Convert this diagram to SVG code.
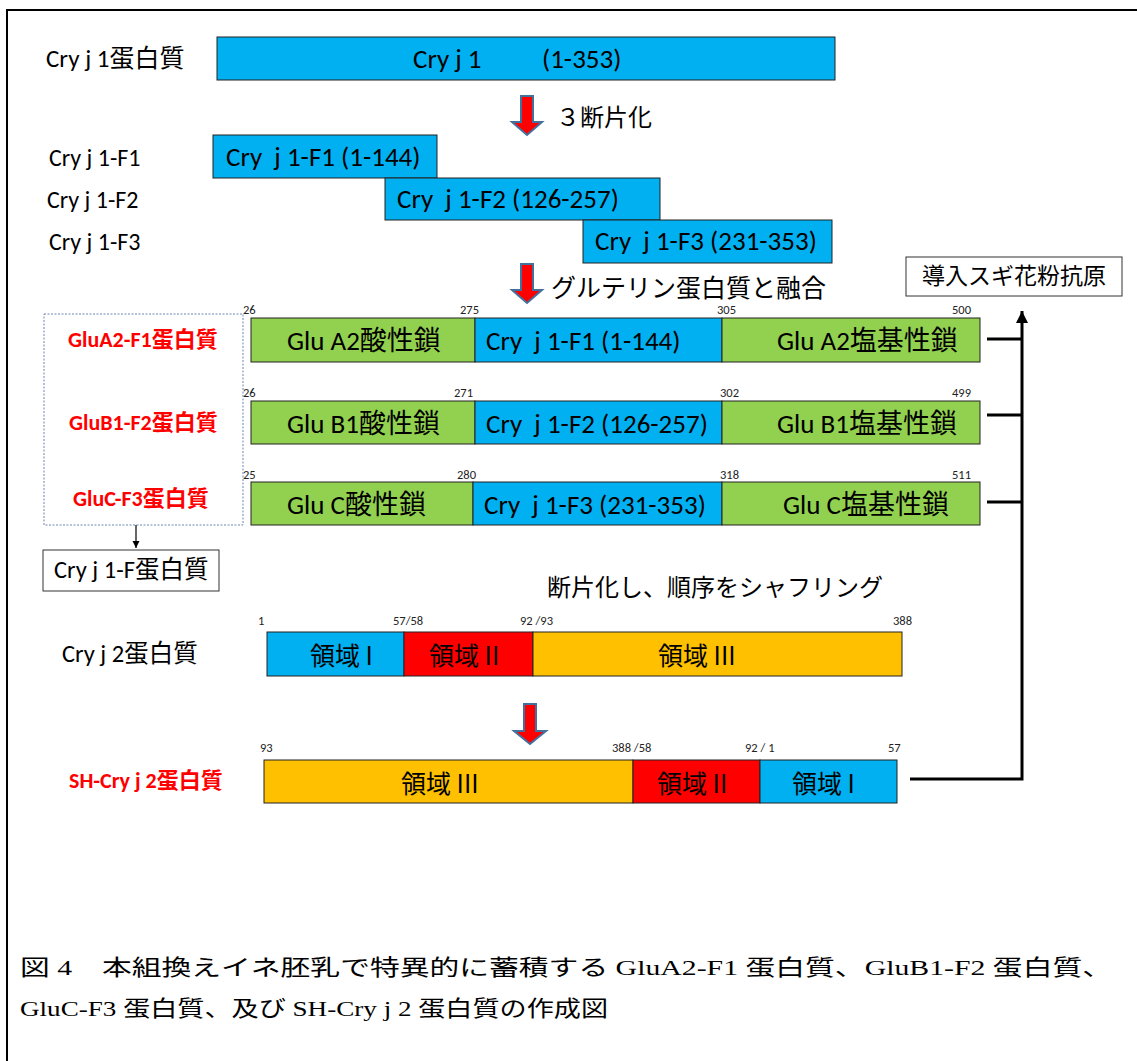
<svg xmlns="http://www.w3.org/2000/svg" width="1137" height="1061" viewBox="0 0 1137 1061">
<defs>
<style>
.t{font-family:Carlito,Lato,"Noto Sans CJK JP",sans-serif;fill:#000}
.jp{font-family:"Noto Sans CJK JP",sans-serif;fill:#000}
.n{font-family:Carlito,Lato,sans-serif;font-size:12.5px;fill:#222}
.red{font-family:Carlito,Lato,"Noto Sans CJK JP",sans-serif;font-weight:bold;fill:#FF0000;font-size:22px}
.cap{font-family:"Liberation Serif","Noto Sans CJK JP",serif;font-size:22px;fill:#000}
.b{fill:#00B0F0;stroke:#222;stroke-width:1}
.g{fill:#92D050;stroke:#222;stroke-width:1}
.o{fill:#FFC000;stroke:#222;stroke-width:1}
.r{fill:#FF0000;stroke:#222;stroke-width:1}
.arr{fill:#FF0000;stroke:#41719C;stroke-width:2;stroke-linejoin:miter}
.box{fill:#fff;stroke:#333;stroke-width:1}
.conn{fill:none;stroke:#000;stroke-width:3}
</style>
<marker id="ah" viewBox="0 0 10 10" refX="10" refY="5" markerWidth="6" markerHeight="6" orient="auto" markerUnits="strokeWidth">
<path d="M0,0 L10,5 L0,10 Z" fill="#000"/>
</marker>
<marker id="ah2" viewBox="0 0 10 10" refX="10" refY="5" markerWidth="4" markerHeight="4" orient="auto" markerUnits="strokeWidth">
<path d="M0,0 L10,5 L0,10 Z" fill="#000"/>
</marker>
</defs>
<rect width="1137" height="1061" fill="#fff"/>
<path d="M7,1061 V10 H1137" fill="none" stroke="#000" stroke-width="2"/>

<g id="cryj1">
<rect class="b" x="217" y="37" width="618" height="43"/>
<text class="t" x="413" y="68" font-size="27">Cry j 1</text>
<text class="t" x="542" y="68" font-size="27">(1-353)</text>
<text class="t" x="46" y="67" font-size="25">Cry j 1蛋白質</text>
</g>

<g id="arrow1">
<polygon class="arr" points="521,96 533,96 533,122 542,122 527,135 512,122 521,122"/>
<text class="jp" x="556" y="126" font-size="24">３断片化</text>
</g>

<g id="f1">
<rect class="b" x="213" y="135" width="224" height="43"/>
<text class="t" x="226" y="166" font-size="27" xml:space="preserve">Cry  j 1-F1 (1-144)</text>
<text class="t" x="49" y="166" font-size="24">Cry j 1-F1</text>
</g>
<g id="f2">
<rect class="b" x="385" y="178" width="275" height="42"/>
<text class="t" x="397" y="208" font-size="27" xml:space="preserve">Cry  j 1-F2 (126-257)</text>
<text class="t" x="47" y="208" font-size="24">Cry j 1-F2</text>
</g>
<g id="f3">
<rect class="b" x="583" y="220" width="249" height="43"/>
<text class="t" x="595" y="250" font-size="27" xml:space="preserve">Cry  j 1-F3 (231-353)</text>
<text class="t" x="49" y="250" font-size="24">Cry j 1-F3</text>
</g>

<g id="arrow2">
<polygon class="arr" points="521,264 533,264 533,290 542,290 527,303 512,290 521,290"/>
<text class="jp" x="551" y="297" font-size="25">グルテリン蛋白質と融合</text>
</g>

<g id="antigen">
<rect class="box" x="906" y="257" width="216" height="39"/>
<text class="jp" x="1014" y="284" font-size="23" text-anchor="middle">導入スギ花粉抗原</text>
</g>

<g id="gluA2">
<rect class="g" x="251" y="318" width="224" height="44"/>
<rect class="b" x="475" y="318" width="247" height="44"/>
<rect class="g" x="722" y="318" width="258" height="44"/>
<text class="t" x="287" y="350" font-size="27">Glu A2酸性鎖</text>
<text class="t" x="486" y="350" font-size="27" xml:space="preserve">Cry  j 1-F1 (1-144)</text>
<text class="t" x="777" y="350" font-size="27">Glu A2塩基性鎖</text>
<text class="n" x="243" y="314">26</text>
<text class="n" x="460" y="314">275</text>
<text class="n" x="717" y="314">305</text>
<text class="n" x="952" y="314">500</text>
</g>

<g id="gluB1">
<rect class="g" x="251" y="401" width="224" height="43"/>
<rect class="b" x="475" y="401" width="247" height="43"/>
<rect class="g" x="722" y="401" width="258" height="43"/>
<text class="t" x="287" y="433" font-size="27">Glu B1酸性鎖</text>
<text class="t" x="486" y="433" font-size="27" xml:space="preserve">Cry  j 1-F2 (126-257)</text>
<text class="t" x="777" y="433" font-size="27">Glu B1塩基性鎖</text>
<text class="n" x="243" y="397">26</text>
<text class="n" x="454" y="397">271</text>
<text class="n" x="720" y="397">302</text>
<text class="n" x="952" y="397">499</text>
</g>

<g id="gluC">
<rect class="g" x="251" y="482" width="222" height="43"/>
<rect class="b" x="473" y="482" width="249" height="43"/>
<rect class="g" x="722" y="482" width="258" height="43"/>
<text class="t" x="287" y="514" font-size="27">Glu C酸性鎖</text>
<text class="t" x="484" y="514" font-size="27" xml:space="preserve">Cry  j 1-F3 (231-353)</text>
<text class="t" x="783" y="514" font-size="27">Glu C塩基性鎖</text>
<text class="n" x="243" y="479">25</text>
<text class="n" x="457" y="479">280</text>
<text class="n" x="720" y="479">318</text>
<text class="n" x="952" y="479">511</text>
</g>

<g id="gluGroup">
<rect x="44" y="314" width="199" height="211" fill="none" stroke="#6A86B0" stroke-width="1" stroke-dasharray="2,1.5"/>
<text class="red" x="68" y="347">GluA2-F1蛋白質</text>
<text class="red" x="69" y="430">GluB1-F2蛋白質</text>
<text class="red" x="73" y="506">GluC-F3蛋白質</text>
</g>

<g id="cryj1F">
<rect class="box" x="43" y="550" width="176" height="41"/>
<text class="t" x="54" y="578" font-size="24.5">Cry j 1-F蛋白質</text>
</g>

<text class="jp" x="547" y="596" font-size="24">断片化し、順序をシャフリング</text>

<g id="cryj2">
<rect class="b" x="267" y="632" width="137" height="44"/>
<rect class="r" x="404" y="632" width="129" height="44"/>
<rect class="o" x="533" y="632" width="369" height="44"/>
<text class="jp" x="310" y="665" font-size="25">領域 I</text>
<text class="jp" x="429" y="665" font-size="25">領域 II</text>
<text class="jp" x="658" y="665" font-size="25">領域 III</text>
<text class="n" x="258" y="625">1</text>
<text class="n" x="393" y="625">57/58</text>
<text class="n" x="520" y="625">92 /93</text>
<text class="n" x="893" y="625">388</text>
<text class="t" x="62" y="662" font-size="24.5">Cry j 2蛋白質</text>
</g>

<g id="arrow3">
<polygon class="arr" points="524,704 536,704 536,731 546,731 530,744 514,731 524,731"/>
</g>

<g id="shcryj2">
<rect class="o" x="264" y="760" width="369" height="43"/>
<rect class="r" x="633" y="760" width="127" height="43"/>
<rect class="b" x="760" y="760" width="137" height="43"/>
<text class="jp" x="401" y="793" font-size="25">領域 III</text>
<text class="jp" x="657" y="793" font-size="25">領域 II</text>
<text class="jp" x="792" y="793" font-size="25">領域 I</text>
<text class="n" x="260" y="752">93</text>
<text class="n" x="612" y="752">388 /58</text>
<text class="n" x="745" y="752">92 / 1</text>
<text class="n" x="888" y="752">57</text>
<text class="red" x="69" y="788" font-size="21">SH-Cry j 2蛋白質</text>
</g>

<g id="connectors">
<line x1="136" y1="525" x2="136" y2="548" stroke="#000" stroke-width="1.2" marker-end="url(#ah)"/>
<line class="conn" x1="987" y1="339" x2="1022" y2="339"/>
<line class="conn" x1="987" y1="415" x2="1022" y2="415"/>
<line class="conn" x1="987" y1="502" x2="1022" y2="502"/>
<polyline class="conn" points="910,779 1022,779 1022,311" marker-end="url(#ah2)"/>
</g>

<g id="caption">
<text class="cap" x="20" y="975" textLength="1092" lengthAdjust="spacingAndGlyphs">図 4　本組換えイネ胚乳で特異的に蓄積する GluA2-F1 蛋白質、GluB1-F2 蛋白質、</text>
<text class="cap" x="20" y="1016" textLength="588" lengthAdjust="spacingAndGlyphs">GluC-F3 蛋白質、及び SH-Cry j 2 蛋白質の作成図</text>
</g>
</svg>
